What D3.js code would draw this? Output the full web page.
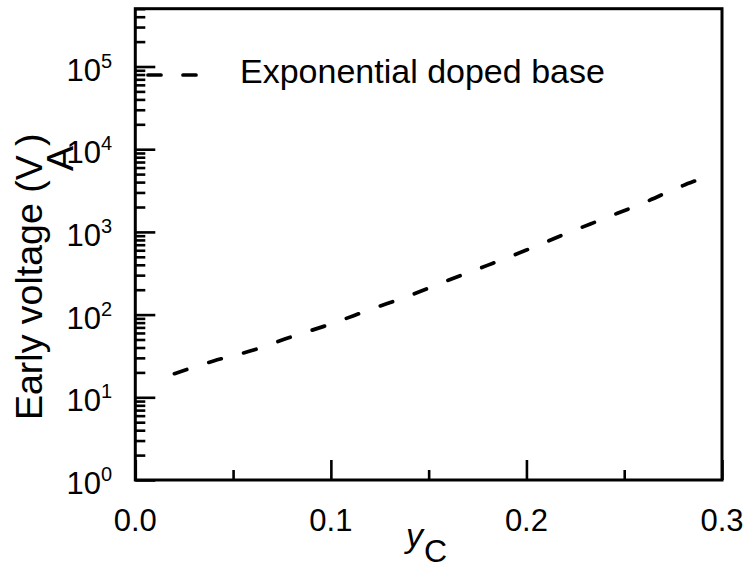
<!DOCTYPE html>
<html>
<head>
<meta charset="utf-8">
<script src="https://cdn.jsdelivr.net/npm/d3@7"></script>
<style>
  html, body { margin: 0; padding: 0; background: #fff; }
  svg { display: block; }
  text { font-family: "Liberation Sans", Arial, Helvetica, sans-serif; fill: #000; }
</style>
</head>
<body>
<svg id="chart" width="749" height="569"></svg>
<script>
// Early voltage V_A versus collector position y_C, exponentially doped base
const yC = [0.02, 0.04, 0.06, 0.08, 0.10, 0.12, 0.14, 0.16, 0.18, 0.20, 0.22, 0.24, 0.26, 0.28, 0.286];
const earlyVoltage = [19.3, 27.5, 37, 54, 77, 115, 169, 260, 394, 603, 948, 1460, 2250, 3630, 4120];
const seriesName = "Exponential doped base";

const xMajorTicks = [0.0, 0.1, 0.2, 0.3];
const xMinorTicks = [0.05, 0.15, 0.25];
const xTickLabels = ["0.0", "0.1", "0.2", "0.3"];
const yDecades = [0, 1, 2, 3, 4, 5];
const yTickLabels = ["0", "1", "2", "3", "4", "5"];

const svg = d3.select("#chart");
const plotLeft = 135.3, plotRight = 722, plotTop = 8.7, plotBottom = 480;

const x = d3.scaleLinear().domain([0, 0.3]).range([plotLeft, plotRight]);
const y = d3.scaleLog().domain([1, 5e5]).range([plotBottom, plotTop]);

// minor log ticks: 2..9 per decade up to the top of the domain
const yMinor = [];
yDecades.forEach(e => {
  for (let m = 2; m <= 9; m++) {
    const v = m * Math.pow(10, e);
    if (v <= 5e5) yMinor.push(v);
  }
});
const yMajor = yDecades.map(e => Math.pow(10, e));

const g = svg.append("g");

// ticks drawn inward
function styleAxis(sel) {
  sel.select(".domain").remove();
  sel.selectAll(".tick line").attr("stroke", "#000").attr("stroke-width", 2.6);
  sel.selectAll(".tick text").remove();
}
g.append("g").attr("transform", `translate(0,${plotBottom})`)
  .call(d3.axisBottom(x).tickValues(xMajorTicks).tickSize(-20)).call(styleAxis);
g.append("g").attr("transform", `translate(0,${plotBottom})`)
  .call(d3.axisBottom(x).tickValues(xMinorTicks).tickSize(-10)).call(styleAxis);
g.append("g").attr("transform", `translate(${plotLeft},0)`)
  .call(d3.axisLeft(y).tickValues(yMajor).tickSize(-20)).call(styleAxis);
g.append("g").attr("transform", `translate(${plotLeft},0)`)
  .call(d3.axisLeft(y).tickValues(yMinor).tickSize(-10)).call(styleAxis);

// frame
g.append("rect")
  .attr("x", plotLeft).attr("y", plotTop)
  .attr("width", plotRight - plotLeft).attr("height", plotBottom - plotTop)
  .attr("fill", "none").attr("stroke", "#000").attr("stroke-width", 3);

// x tick labels
g.selectAll(".xlab").data(xMajorTicks).enter().append("text")
  .attr("x", d => x(d)).attr("y", plotBottom + 51)
  .attr("text-anchor", "middle").attr("font-size", 31)
  .text((d, i) => xTickLabels[i]);

// y tick labels with superscript exponents
const ylab = g.selectAll(".ylab").data(yMajor).enter().append("text")
  .attr("x", 66.5).attr("y", d => y(d) + 14)
  .attr("font-size", 31);
ylab.append("tspan").text("10");
ylab.append("tspan").attr("font-size", 20).attr("dy", -13).text((d, i) => yTickLabels[i]);

// axis titles
const xt = g.append("text").attr("x", 406).attr("y", 547).attr("font-size", 34);
xt.append("tspan").attr("font-style", "italic").text("y");
xt.append("tspan").attr("dy", 15).attr("dx", 1).attr("font-size", 32).text("C");

const yt = g.append("text")
  .attr("transform", "rotate(-90)")
  .attr("x", -420).attr("y", 42).attr("font-size", 37.5);
yt.append("tspan").text("Early voltage (");
yt.append("tspan").text("V");
yt.append("tspan").attr("dy", 31).attr("dx", -13).text("A");
yt.append("tspan").attr("dy", -31).attr("dx", 0).text(")");

// data curve; the dash period is stretched slightly so the pattern
// starts and ends on a dash
const line = d3.line()
  .x((d, i) => x(yC[i]))
  .y(d => y(d))
  .curve(d3.curveMonotoneX);
const curve = g.append("path")
  .attr("d", line(earlyVoltage))
  .attr("fill", "none").attr("stroke", "#000")
  .attr("stroke-width", 3.7).attr("stroke-linecap", "round");
const dash = 13;
const len = curve.node().getTotalLength();
const n = Math.max(1, Math.round((len - dash) / 35));
const period = (len - dash) / n;
curve.attr("stroke-dasharray", `${dash},${period - dash}`);

// legend
g.append("line")
  .attr("x1", 148).attr("x2", 198).attr("y1", 75).attr("y2", 75)
  .attr("stroke", "#000").attr("stroke-width", 3.7)
  .attr("stroke-linecap", "round").attr("stroke-dasharray", "13,22");
g.append("text").attr("x", 240).attr("y", 83).attr("font-size", 34).text(seriesName);
</script>
</body>
</html>
